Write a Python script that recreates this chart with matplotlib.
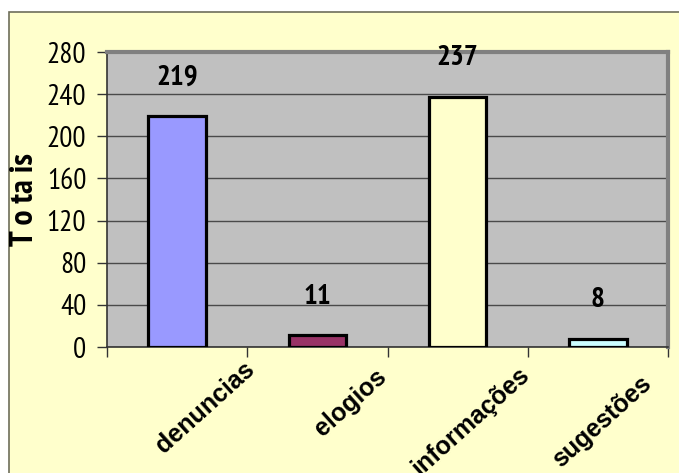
import matplotlib
matplotlib.use("Agg")
import matplotlib.pyplot as plt
from matplotlib.patches import Rectangle
from matplotlib.transforms import ScaledTranslation

categorias = ["denuncias", "elogios", "informações", "sugestões"]
totais = [219, 11, 237, 8]
cores = ["#9999FF", "#993366", "#FFFFCC", "#CCFFFF"]
yticks = [0, 40, 80, 120, 160, 200, 240, 280]

NARROW = ["Liberation Sans Narrow", "Arial Narrow", "PT Sans Narrow", "Archivo Narrow",
          "Barlow Condensed", "DejaVu Sans"]
BOLD = ["Liberation Sans", "DejaVu Sans"]

fig = plt.figure(figsize=(6.79, 4.73), dpi=100)
fig.patch.set_facecolor("white")

# moldura amarela do gráfico
fig.patches.append(Rectangle((9/679, -0.1), 1.2, 1.1 - 12/473, transform=fig.transFigure,
                             facecolor="#FFFFCC", edgecolor="#6E6E5A", lw=1.2, zorder=-5))

ax = fig.add_axes([107/679, 1 - 347/473, 561/679, 295/473])
ax.set_zorder(2)
ax.set_facecolor("#C0C0C0")
x = range(len(categorias))
ax.bar(x, totais, width=0.41, color=cores, edgecolor="black", linewidth=2.3, zorder=3)

ax.set_xlim(-0.5, len(categorias) - 0.5)
ax.set_ylim(0, 280)
ax.set_yticks(yticks)
ax.set_yticklabels([str(v) for v in yticks], family=NARROW, fontsize=21)
ax.yaxis.grid(True, color="#4A4A4A", lw=1.0, zorder=1)
ax.tick_params(axis="y", length=7, width=1, color="#333333", pad=8)

# marcas entre categorias, rótulos nas posições centrais
ax.set_xticks([i - 0.5 for i in range(len(categorias) + 1)], minor=True)
ax.set_xticks(list(x))
ax.tick_params(axis="x", which="minor", length=7, width=1, color="#333333", direction="out")
ax.tick_params(axis="x", which="major", length=0, pad=0)
ax.set_xticklabels(categorias, rotation=42, ha="right", va="top", rotation_mode="anchor",
                   family=BOLD, fontweight="bold", fontsize=18)
# deslocamento (px) do canto superior direito de cada rótulo
desloc = [(66, 10), (58, 18), (60, 16), (42, 24)]
for lbl, (dx, dy) in zip(ax.get_xticklabels(), desloc):
    lbl.set_transform(lbl.get_transform() + ScaledTranslation(dx / 100, -dy / 100, fig.dpi_scale_trans))

for s in ["left", "bottom"]:
    ax.spines[s].set_color("#333333")
    ax.spines[s].set_linewidth(1.2)
for s in ["top", "right"]:
    ax.spines[s].set_color("#808080")
    ax.spines[s].set_linewidth(3)

for i, v in enumerate(totais):
    ax.annotate(str(v), (i, v), xytext=(0, 28), textcoords="offset points",
                ha="center", va="center", family=NARROW, fontweight="bold", fontsize=21, zorder=4)

ax.set_ylabel("T o ta is", family=NARROW, fontweight="bold", fontsize=24, va="center")
ax.yaxis.set_label_coords(-0.146, 0.5)

fig.savefig("out.png", dpi=100)
